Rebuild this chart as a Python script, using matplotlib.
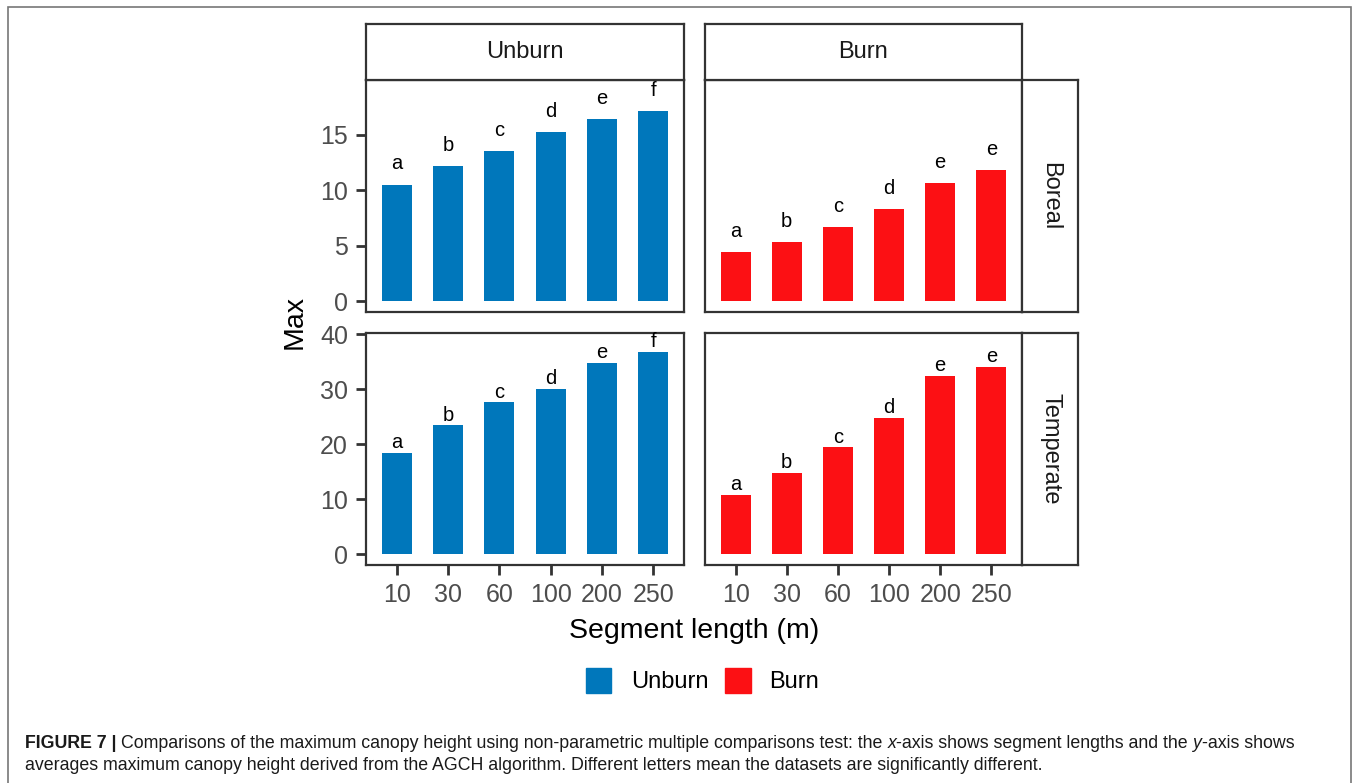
import matplotlib.pyplot as plt
from matplotlib.patches import Rectangle

plt.rcParams['font.family'] = ['Liberation Sans', 'DejaVu Sans']

# mean maximum canopy height per segment length
segments = ['10', '30', '60', '100', '200', '250']
unburn_boreal = [10.5, 12.2, 13.5, 15.2, 16.4, 17.1]
burn_boreal = [4.4, 5.3, 6.7, 8.3, 10.6, 11.8]
unburn_temperate = [18.4, 23.4, 27.6, 30.0, 34.8, 36.7]
burn_temperate = [10.8, 14.8, 19.4, 24.8, 32.4, 34.0]

# significance groups
letters_unburn = ['a', 'b', 'c', 'd', 'e', 'f']
letters_burn = ['a', 'b', 'c', 'd', 'e', 'e']

fire_types = ['Unburn', 'Burn']
regions = ['Boreal', 'Temperate']
yticks_boreal = [0, 5, 10, 15]
yticks_temperate = [0, 10, 20, 30, 40]

BLUE = '#0077BB'
RED = '#FC1014'
EDGE = '#333333'
TICKCOL = '#4D4D4D'

W, H = 1356, 783
fig = plt.figure(figsize=(W / 100, H / 100), dpi=100)


def px_box(x0, y0, x1, y1):
    # pixel box (top-left origin) -> figure fraction rect
    return [x0 / W, 1 - y1 / H, (x1 - x0) / W, (y1 - y0) / H]


def style_box(ax):
    ax.set_xticks([])
    ax.set_yticks([])
    for sp in ax.spines.values():
        sp.set_color(EDGE)
        sp.set_linewidth(1.6)


cols_x = [(366, 684), (705, 1022)]
rows_y = [(80, 312), (333, 565)]

panel_data = {
    ('Boreal', 'Unburn'): unburn_boreal,
    ('Boreal', 'Burn'): burn_boreal,
    ('Temperate', 'Unburn'): unburn_temperate,
    ('Temperate', 'Burn'): burn_temperate,
}
ylims = {'Boreal': (-0.95, 19.9), 'Temperate': (-1.95, 40.2)}
yticks = {'Boreal': yticks_boreal, 'Temperate': yticks_temperate}
letter_off = {'Boreal': 1.0, 'Temperate': 0.15}

for ri, region in enumerate(regions):
    y0, y1 = rows_y[ri]
    for ci, fire in enumerate(fire_types):
        x0, x1 = cols_x[ci]
        ax = fig.add_axes(px_box(x0, y0, x1, y1))
        vals = panel_data[(region, fire)]
        color = BLUE if fire == 'Unburn' else RED
        letters = letters_unburn if fire == 'Unburn' else letters_burn
        xs = list(range(len(segments)))
        ax.bar(xs, vals, width=0.58, color=color, edgecolor='none')
        for x, v, lab in zip(xs, vals, letters):
            ax.text(x, v + letter_off[region], lab, ha='center', va='bottom',
                    fontsize=14.5, color='black')
        ax.set_xlim(-0.6, 5.6)
        ax.set_ylim(*ylims[region])
        for sp in ax.spines.values():
            sp.set_color(EDGE)
            sp.set_linewidth(1.6)
        ax.tick_params(length=7, width=2, color=EDGE, labelcolor=TICKCOL,
                       labelsize=18, pad=6)
        ax.set_xticks(xs)
        ax.set_yticks(yticks[region])
        if ri == 1:
            ax.set_xticklabels(segments)
        else:
            ax.tick_params(axis='x', length=0, labelbottom=False)
        if ci == 1:
            ax.tick_params(axis='y', length=0, labelleft=False)

        # column strips on top
        if ri == 0:
            sax = fig.add_axes(px_box(x0, 24, x1, y0))
            style_box(sax)
            sax.text(0.5, 0.5, fire, ha='center', va='center', fontsize=17,
                     color='#1A1A1A', transform=sax.transAxes)
        # row strips on the right
        if ci == 1:
            sax = fig.add_axes(px_box(x1, y0, 1078, y1))
            style_box(sax)
            sax.text(0.5, 0.5, region, ha='center', va='center', fontsize=17,
                     color='#1A1A1A', rotation=-90, transform=sax.transAxes)

# axis titles
fig.text(694 / W, 1 - 631 / H, 'Segment length (m)', ha='center', va='center',
         fontsize=20.5)
fig.text(295 / W, 1 - 322 / H, 'Max', ha='center', va='center', rotation=90,
         fontsize=20.5)

# legend
for (sx0, sx1), (tx, lab), col in zip([(586, 611), (725, 751)],
                                      [(631, 'Unburn'), (769, 'Burn')],
                                      [BLUE, RED]):
    fig.patches.append(Rectangle((sx0 / W, 1 - 693 / H), (sx1 - sx0) / W, 25 / H,
                                 transform=fig.transFigure, color=col))
    fig.text(tx / W, 1 - 682 / H, lab, ha='left', va='center', fontsize=17)

# outer frame
fig.patches.append(Rectangle((8 / W, -0.01), (1351 - 8) / W, 1 - 7 / H + 0.01,
                             transform=fig.transFigure, fill=False,
                             edgecolor='#777777', linewidth=1.2))

# caption with mixed styles
renderer = fig.canvas.get_renderer()


def draw_runs(x, y, runs, size=12.8):
    for s, kw in runs:
        t = fig.text(x / W, 1 - y / H, s, ha='left', va='center', fontsize=size,
                     color='#1A1A1A', **kw)
        x += t.get_window_extent(renderer=renderer).width


line1 = [
    ('FIGURE 7 | ', {'weight': 'bold'}),
    ('Comparisons of the maximum canopy height using non-parametric multiple '
     'comparisons test: the ', {}),
    ('x', {'style': 'italic'}),
    ('-axis shows segment lengths and the ', {}),
    ('y', {'style': 'italic'}),
    ('-axis shows', {}),
]
line2 = [
    ('averages maximum canopy height derived from the AGCH algorithm. '
     'Different letters mean the datasets are significantly different.', {}),
]
draw_runs(25, 743, line1)
draw_runs(25, 766, line2)

fig.savefig('out.png', dpi=100)
